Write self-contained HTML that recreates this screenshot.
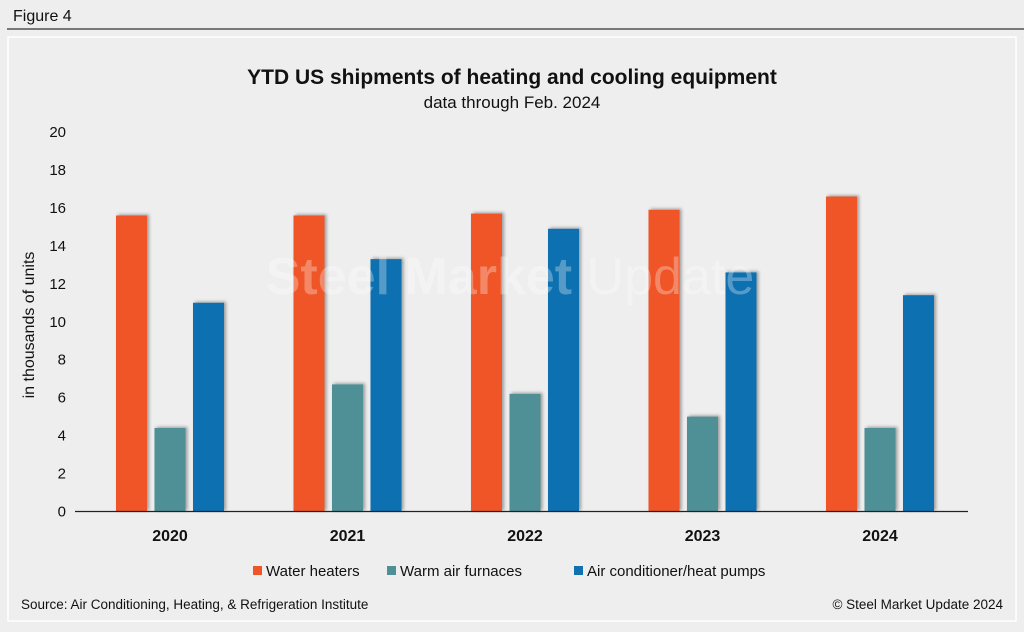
<!DOCTYPE html>
<html><head><meta charset="utf-8"><style>
body{margin:0;background:#eeeeee;font-family:"Liberation Sans",Arial,sans-serif;}
svg{display:block}
</style></head><body>
<svg width="1024" height="632" xmlns="http://www.w3.org/2000/svg">
<defs><filter id="sh" x="-20%" y="-5%" width="150%" height="110%"><feDropShadow dx="2" dy="-1" stdDeviation="1.5" flood-color="#000" flood-opacity="0.35"/></filter></defs>
<rect width="1024" height="632" fill="#eeeeee"/>
<text x="13" y="21" font-size="16" fill="#111">Figure 4</text>
<line x1="7" y1="29" x2="1024" y2="29" stroke="#333" stroke-width="1.2"/>
<rect x="8" y="37" width="1008" height="584" fill="#eeeeee" stroke="#ffffff" stroke-width="1.5"/>
<text x="512" y="84" text-anchor="middle" font-size="21" font-weight="bold" fill="#111">YTD US shipments of heating and cooling equipment</text>
<text x="512" y="108" text-anchor="middle" font-size="17" fill="#111">data through Feb. 2024</text>
<g id="yaxis"></g>
<g id="bars"></g>
<text x="510" y="294" text-anchor="middle" font-size="52" fill="#ffffff" opacity="0.3"><tspan font-weight="bold">Steel Market</tspan> Update</text>
<line x1="75" y1="511.5" x2="968" y2="511.5" stroke="#222" stroke-width="1.2"/>
<text transform="translate(34,325) rotate(-90)" text-anchor="middle" font-size="16" fill="#111">in thousands of units</text>
<g>
<rect x="253" y="566" width="9" height="9" fill="#ef5528"/>
<text x="266" y="576" font-size="15" fill="#111">Water heaters</text>
<rect x="387" y="566" width="9" height="9" fill="#4f9096"/>
<text x="400" y="576" font-size="15" fill="#111">Warm air furnaces</text>
<rect x="574" y="566" width="9" height="9" fill="#1070b0"/>
<text x="587" y="576" font-size="15" fill="#111">Air conditioner/heat pumps</text>
</g>
<text x="21" y="609" font-size="13.5" fill="#111">Source: Air Conditioning, Heating, &amp; Refrigeration Institute</text>
<text x="1003" y="609" text-anchor="end" font-size="13.5" fill="#111">© Steel Market Update 2024</text>
</svg>
<script>
const categories=["2020","2021","2022","2023","2024"];
const waterHeaters=[15.6,15.6,15.7,15.9,16.6];
const furnaces=[4.4,6.7,6.2,5.0,4.4];
const acHeatPumps=[11.0,13.3,14.9,12.6,11.4];
const yTicks=[0,2,4,6,8,10,12,14,16,18,20];
const NS="http://www.w3.org/2000/svg";
const y0=511.5,pxPer=18.975;
function yS(v){return y0-v*pxPer;}
function xC(i){return 170+i*177.5;}
const ya=document.getElementById('yaxis');
yTicks.forEach(t=>{
 const tx=document.createElementNS(NS,'text');
 tx.setAttribute('x',66);tx.setAttribute('y',yS(t)+5);
 tx.setAttribute('text-anchor','end');tx.setAttribute('font-size','15');tx.setAttribute('fill','#111');
 tx.textContent=t;
 
 
 ya.appendChild(tx);
});
const series=[[waterHeaters,'#ef5528','water-heaters'],[furnaces,'#4f9096','furnaces'],[acHeatPumps,'#1070b0','ac-heat-pumps']];
const g=document.getElementById('bars');
categories.forEach((c,i)=>{
 series.forEach((s,k)=>{
  const v=s[0][i];
  const r=document.createElementNS(NS,'rect');
  const x=xC(i)-54+k*38.5;
  r.setAttribute('x',x);r.setAttribute('y',yS(v));
  r.setAttribute('width',31);r.setAttribute('height',v*pxPer);
  r.setAttribute('fill',s[1]);r.setAttribute('filter','url(#sh)');
  
  
  g.appendChild(r);
 });
 const t=document.createElementNS(NS,'text');
 t.setAttribute('x',xC(i));t.setAttribute('y',541);
 t.setAttribute('text-anchor','middle');t.setAttribute('font-size','16');t.setAttribute('font-weight','bold');t.setAttribute('fill','#111');
 t.textContent=c;
 
 
 g.appendChild(t);
});
</script>
</body></html>
